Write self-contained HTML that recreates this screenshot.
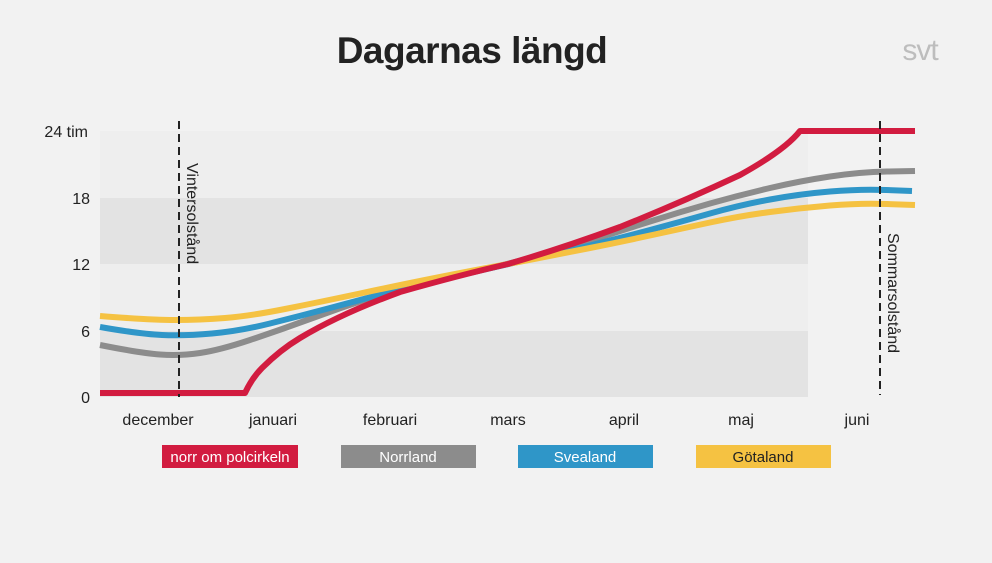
<!DOCTYPE html>
<html><head><meta charset="utf-8"><style>
body{margin:0;width:992px;height:558px;background:#f2f2f2;overflow:hidden;font-family:"Liberation Sans",sans-serif}
</style></head><body>
<svg width="992" height="558" viewBox="0 0 992 558" xmlns="http://www.w3.org/2000/svg" font-family="Liberation Sans, sans-serif">
<rect width="992" height="558" fill="#f2f2f2"/>
<text x="472" y="63" text-anchor="middle" font-size="37" font-weight="bold" fill="#222" letter-spacing="-0.5">Dagarnas längd</text>
<text x="920" y="60" text-anchor="middle" font-size="30" fill="#bdbdbd" letter-spacing="-1">svt</text>
<rect x="100" y="131" width="708" height="67" fill="#eeeeee"/>
<rect x="100" y="198" width="708" height="66" fill="#e3e3e3"/>
<rect x="100" y="264" width="708" height="67" fill="#eeeeee"/>
<rect x="100" y="331" width="708" height="66" fill="#e3e3e3"/>
<g font-size="16" fill="#222" text-anchor="end">
<text x="88" y="137">24 tim</text><text x="90" y="204">18</text><text x="90" y="270">12</text><text x="90" y="337">6</text><text x="90" y="403">0</text>
</g>
<g font-size="16" fill="#222" text-anchor="middle">
<text x="158" y="425">december</text><text x="273" y="425">januari</text><text x="390" y="425">februari</text><text x="508" y="425">mars</text><text x="624" y="425">april</text><text x="741" y="425">maj</text><text x="857" y="425">juni</text>
</g>
<g fill="none" stroke-width="6" stroke-linejoin="round">
<path d="M100,345 Q140,353 160,354.5 Q180,356 200,353 Q220,350 250,340 Q280,330 310,319 Q340,308 370,298 Q400,288 430,281.5 Q460,275 484,269.5 Q508,264 534,257 Q560,250 590,240.5 Q620,231 650,221.5 Q680,212 710,203.5 Q740,195 770,188 Q800,181 830,176.5 Q860,172 887,171.5 L915,171" stroke="#8c8c8c"/>
<path d="M100,327 Q140,334 162,335 Q185,336 212,333.5 Q240,331 270,323.5 Q300,316 330,308 Q360,300 390,292 Q420,284 445,278.5 Q470,273 489,268.5 Q508,264 534,258.5 Q560,253 590,245.5 Q620,238 650,230 Q680,222 710,213.5 Q740,205 770,199.5 Q800,194 830,191.5 Q860,189 886,190 L912,191" stroke="#2f96c8"/>
<path d="M100,316 Q150,320 175,320 Q200,320 225,318 Q250,316 285,309 Q320,302 360,293.5 Q400,285 430,279 Q460,273 484,268.5 Q508,264 534,259 Q560,254 590,248 Q620,242 650,235.5 Q680,229 710,222.5 Q740,216 770,212 Q800,208 830,205.5 Q860,203 887,204 L915,205" stroke="#f5c242"/>
<path d="M100,393 L245,393 Q252,378 262,368 Q280,350 300,338 Q340,314 400,292 Q460,275 508,264 Q560,249 620,227 Q680,203 740,175 Q785,150 800,131 L915,131" stroke="#d21c40"/>
</g>
<g stroke="#222" stroke-width="2" stroke-dasharray="8,5">
<line x1="179" y1="121" x2="179" y2="397"/>
<line x1="880" y1="121" x2="880" y2="395"/>
</g>
<text transform="translate(187,163) rotate(90)" font-size="16" fill="#222">Vintersolstånd</text>
<text transform="translate(888,233) rotate(90)" font-size="16" fill="#222">Sommarsolstånd</text>
<rect x="162" y="445" width="136" height="23" fill="#d21c40"/>
<rect x="341" y="445" width="135" height="23" fill="#8c8c8c"/>
<rect x="518" y="445" width="135" height="23" fill="#2f96c8"/>
<rect x="696" y="445" width="135" height="23" fill="#f5c242"/>
<g font-size="15" fill="#fff" text-anchor="middle">
<text x="230" y="462">norr om polcirkeln</text><text x="408" y="462">Norrland</text><text x="585" y="462">Svealand</text><text x="763" y="462" fill="#222">Götaland</text>
</g>
</svg>
</body></html>
